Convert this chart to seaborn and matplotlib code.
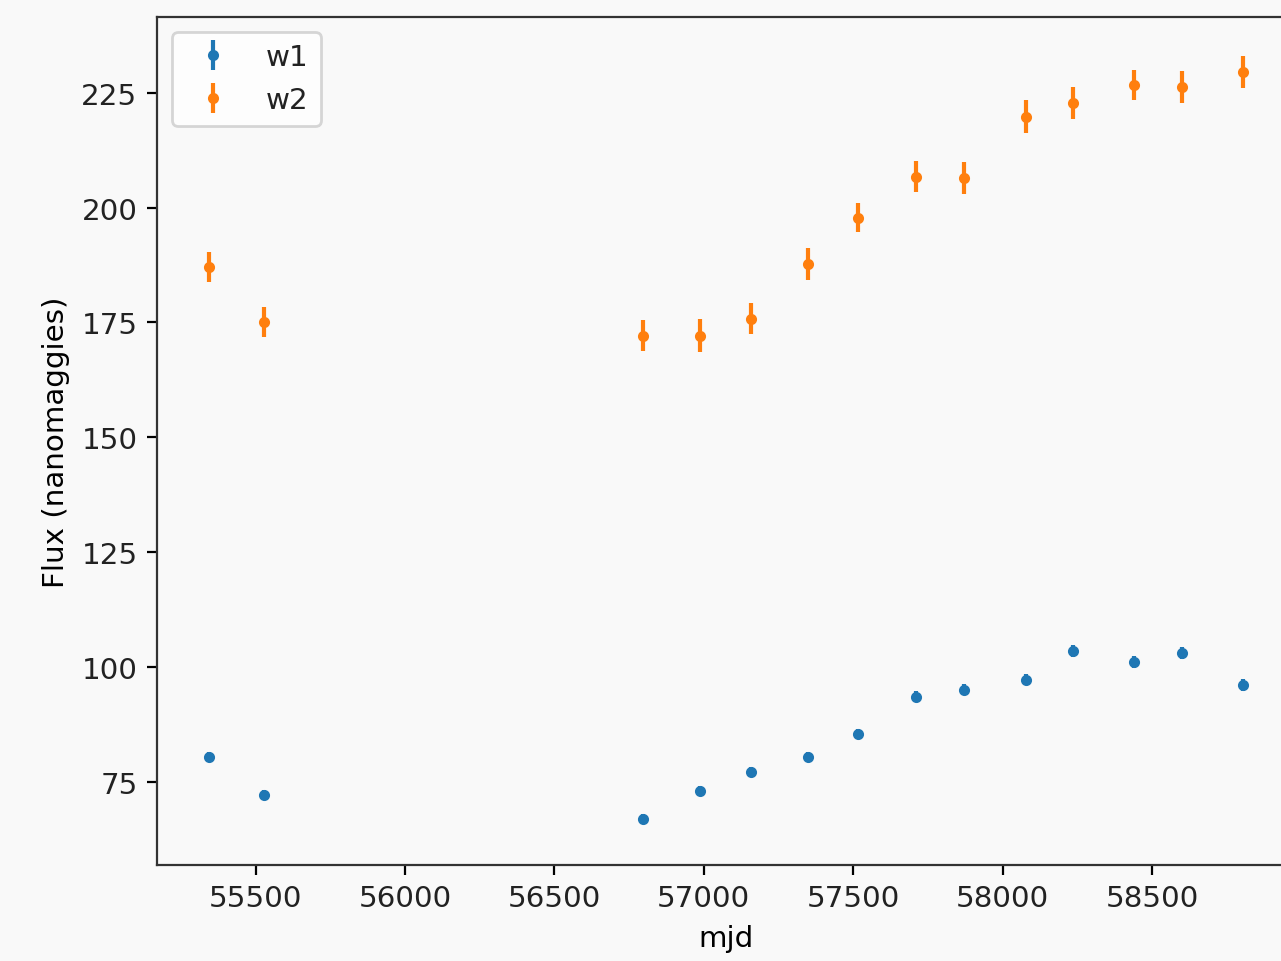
import numpy as np
import seaborn as sns
import matplotlib
matplotlib.use("Agg")
import matplotlib.pyplot as plt

mjd = [55343, 55527, 56798, 56988, 57159, 57349, 57517,
       57711, 57871, 58079, 58236, 58440, 58600, 58804]
w1_flux = [80.4, 72.2, 67.0, 73.0, 77.2, 80.4, 85.4,
           93.5, 95.0, 97.2, 103.5, 101.1, 103.1, 96.1]
w1_err = [1.0, 1.0, 1.1, 1.0, 1.0, 1.0, 1.1,
          1.2, 1.2, 1.2, 1.3, 1.3, 1.3, 1.3]
w2_flux = [187.1, 175.1, 172.1, 172.1, 175.8, 187.8, 197.8,
           206.7, 206.5, 219.8, 222.8, 226.7, 226.3, 229.6]
w2_err = [3.3, 3.3, 3.4, 3.6, 3.4, 3.5, 3.2,
          3.4, 3.5, 3.6, 3.4, 3.3, 3.5, 3.5]

bg = "#f9f9f9"
palette = sns.color_palette("tab10")
plt.rcParams["font.size"] = 10.6
plt.rcParams["axes.edgecolor"] = "#333333"
plt.rcParams["text.color"] = "#222222"
plt.rcParams["xtick.labelcolor"] = "#222222"
plt.rcParams["ytick.labelcolor"] = "#222222"

fig = plt.figure(figsize=(6.405, 4.81), dpi=200, facecolor=bg)
ax = fig.add_axes([0.1226, 0.0998, 0.888, 0.8815], facecolor=bg)

ax.errorbar(mjd, w1_flux, yerr=w1_err, fmt=".", color=palette[0], label="w1")
ax.errorbar(mjd, w2_flux, yerr=w2_err, fmt=".", color=palette[1], label="w2")

ax.set_xlim(55170, 58977)
ax.set_ylim(56.9, 241.5)
ax.set_xticks([55500, 56000, 56500, 57000, 57500, 58000, 58500])
ax.set_xlabel("mjd")
ax.set_ylabel("Flux (nanomaggies)")
ax.legend(loc="upper left")

fig.savefig("out.png", dpi=200, facecolor=bg)
